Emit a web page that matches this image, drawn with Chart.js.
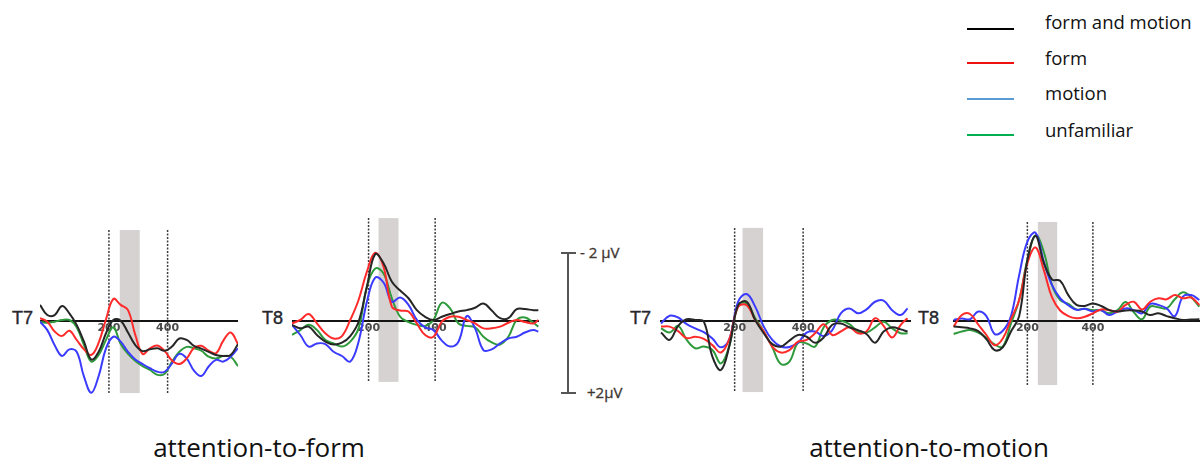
<!DOCTYPE html>
<html>
<head>
<meta charset="utf-8">
<script src="https://cdn.jsdelivr.net/npm/chart.js@4.4.0/dist/chart.umd.min.js"></script>
<style>
  body { margin: 0; background: #fff; }
  #page { position: relative; width: 1200px; height: 461px; overflow: hidden; font-family: 'Open Sans', sans-serif; }
  #page canvas { position: absolute; }
  .electrode { position: absolute; font: 18px 'Liberation Sans', sans-serif; color: #26262e; line-height: 18px; -webkit-text-stroke: 0.4px #26262e; }
  .caption { position: absolute; top: 434px; font-size: 26px; line-height: 26px; color: #111; transform: translateX(-50%); white-space: nowrap; }
  .legend-row { position: absolute; left: 967px; height: 20px; }
  .legend-row i { position: absolute; left: 0; width: 47px; height: 2px; }
  .legend-row span { position: absolute; left: 78px; font-size: 18.5px; color: #111; white-space: nowrap; line-height: 20px; }
  .bar { position: absolute; background: #555; }
  .uv { position: absolute; font: 15px 'Open Sans', sans-serif; color: #3e3630; line-height: 15px; white-space: nowrap; -webkit-text-stroke: 0.3px #3e3630; }
</style>
</head>
<body>
<div id="page">
  <div class="legend-row" style="top: 12px"><i style="top: 16px; background: #000"></i><span>form and motion</span></div>
  <div class="legend-row" style="top: 48px"><i style="top: 14px; background: #ee1111"></i><span>form</span></div>
  <div class="legend-row" style="top: 83px"><i style="top: 15px; background: #5b9bd5"></i><span>motion</span></div>
  <div class="legend-row" style="top: 120px"><i style="top: 14px; background: #00b050"></i><span>unfamiliar</span></div>

  <div class="bar" style="left: 567px; top: 253px; width: 2px; height: 140px"></div>
  <div class="bar" style="left: 561px; top: 252px; width: 15px; height: 2px"></div>
  <div class="bar" style="left: 561px; top: 392px; width: 15px; height: 2px"></div>
  <div class="uv" style="left: 580px; top: 245px">- 2 µV</div>
  <div class="uv" style="left: 587px; top: 385px">+2µV</div>

  <div class="caption" style="left: 259px">attention-to-form</div>
  <div class="caption" style="left: 929px">attention-to-motion</div>
</div>
<script>
// sample times (ms) and amplitudes (µV, negative plotted upward)

// attention-to-form, T7
const formT7Times = [-35, -10, 15, 40, 65, 90, 115, 140, 165, 190, 215, 240, 265, 290, 315, 340, 365, 390, 415, 440, 465, 490, 515, 540, 565, 590, 615, 640];
const formT7FormMotion = [-0.46, -0.17, -0.17, -0.43, -0.22, 0.11, 0.59, 1.10, 0.88, 0.35, -0.03, -0.01, 0.33, 0.69, 0.86, 0.81, 0.78, 0.85, 0.73, 0.50, 0.54, 0.71, 0.79, 0.88, 0.97, 1.00, 0.97, 0.66];
const formT7Form = [-0.08, 0.02, 0.30, 0.43, 0.28, 0.54, 0.81, 0.97, 0.62, -0.05, -0.63, -0.46, -0.31, 0.40, 0.94, 0.78, 0.70, 0.86, 1.13, 1.23, 1.07, 0.77, 0.71, 0.85, 0.92, 0.56, 0.33, 0.66];
const formT7Motion = [0.02, 0.26, 0.69, 1.00, 0.81, 0.88, 1.59, 2.05, 1.57, 0.78, 0.45, 0.59, 0.88, 1.10, 1.23, 1.35, 1.45, 1.45, 1.21, 0.94, 1.07, 1.42, 1.57, 1.30, 1.11, 1.16, 1.02, 0.78];
const formT7Unfamiliar = [0.02, 0.05, 0.02, -0.03, -0.03, 0.18, 0.69, 1.16, 0.97, 0.54, 0.18, 0.66, 0.94, 1.14, 1.29, 1.40, 1.54, 1.51, 1.16, 0.88, 0.74, 0.78, 0.85, 1.02, 1.07, 1.00, 1.02, 1.29];

// attention-to-form, T8
const formT8Times = [-30, -5, 20, 45, 70, 95, 120, 145, 170, 195, 220, 245, 270, 295, 320, 345, 370, 395, 420, 445, 470, 495, 520, 545, 570, 595, 620, 645, 670, 695, 710];
const formT8FormMotion = [0.11, 0.21, 0.16, 0.40, 0.59, 0.67, 0.62, 0.43, 0.02, -0.98, -1.91, -1.65, -1.12, -0.87, -0.65, -0.31, -0.12, -0.03, -0.12, -0.20, -0.27, -0.31, -0.38, -0.50, -0.30, -0.08, -0.08, -0.34, -0.34, -0.31, -0.31];
const formT8Form = [0.07, -0.03, -0.20, 0.07, 0.35, 0.50, 0.43, -0.03, -0.60, -1.41, -1.95, -1.55, -0.41, -0.30, -0.27, 0.07, 0.40, 0.45, 0.02, -0.12, -0.12, -0.03, 0.07, 0.21, 0.21, 0.16, 0.05, -0.03, 0.03, 0.07, -0.03];
const formT8Motion = [0.11, 0.40, 0.73, 0.64, 0.66, 0.88, 1.00, 1.16, 0.59, -0.55, -1.24, -1.10, -0.55, -0.67, -0.46, -0.03, 0.18, 0.26, 0.56, 0.73, 0.59, -0.14, 0.21, 0.83, 0.81, 0.64, 0.50, 0.45, 0.33, 0.26, 0.30];
const formT8Unfamiliar = [0.40, 0.26, 0.11, 0.26, 0.54, 0.64, 0.73, 0.59, 0.21, -0.98, -1.50, -1.36, -0.65, -0.12, 0.03, 0.11, 0.14, -0.03, -0.52, -0.36, 0.07, 0.14, 0.18, 0.45, 0.61, 0.67, 0.45, -0.03, -0.10, 0.05, 0.16];

// attention-to-motion, T7
const motionT7Times = [-15, 10, 35, 60, 85, 110, 135, 160, 185, 210, 235, 260, 285, 310, 335, 360, 385, 410, 435, 460, 485, 510, 535, 560, 585, 610, 635, 660, 685, 705];
const motionT7FormMotion = [0.33, 0.54, 0.14, -0.05, -0.03, 0.02, 1.02, 1.40, 0.69, -0.45, -0.55, -0.03, 0.35, 0.66, 0.73, 0.56, 0.40, 0.45, 0.62, 0.47, 0.11, 0.07, 0.18, 0.26, 0.37, 0.62, 0.30, 0.18, 0.24, 0.30];
const motionT7Form = [0.16, 0.16, 0.29, 0.49, 0.45, 0.51, 0.69, 0.90, 0.50, -0.40, -0.45, -0.03, 0.30, 0.73, 0.90, 0.83, 0.59, 0.54, 0.35, 0.09, 0.40, 0.30, 0.18, 0.35, 0.30, -0.08, 0.14, 0.47, 0.11, -0.08];
const motionT7Motion = [0.07, -0.15, -0.10, 0.09, 0.21, 0.32, 0.50, 0.75, 0.50, -0.55, -0.77, -0.41, 0.16, 0.54, 0.73, 0.74, 0.62, 0.33, 0.30, 0.43, 0.26, -0.22, -0.36, -0.22, -0.33, -0.55, -0.58, -0.31, -0.17, -0.36];
const motionT7Unfamiliar = [0.21, 0.33, 0.14, 0.54, 0.78, 0.73, 0.83, 1.21, 0.69, -0.45, -0.50, -0.08, 0.30, 0.75, 1.23, 1.16, 0.62, 0.64, 0.73, 0.18, -0.03, -0.01, 0.09, 0.30, 0.33, 0.18, 0.02, 0.21, 0.35, 0.35];

// attention-to-motion, T8
const motionT8Times = [-25, 0, 25, 50, 75, 100, 125, 150, 175, 200, 225, 250, 275, 300, 325, 350, 375, 400, 425, 450, 475, 500, 525, 550, 575, 600, 625, 650, 675, 700, 725];
const motionT8FormMotion = [0.16, 0.18, 0.21, 0.29, 0.52, 0.83, 0.75, 0.30, -0.14, -1.74, -2.43, -1.67, -1.19, -1.15, -0.74, -0.46, -0.43, -0.50, -0.43, -0.31, -0.27, -0.30, -0.30, -0.27, -0.17, -0.22, -0.14, -0.08, -0.03, -0.04, -0.05];
const motionT8Form = [0.16, -0.17, -0.20, 0.10, 0.40, 0.69, 0.50, -0.05, -0.60, -1.65, -2.10, -1.46, -0.68, -0.30, -0.14, -0.08, -0.12, -0.22, -0.33, -0.31, -0.27, -0.46, -0.55, -0.33, -0.55, -0.65, -0.62, -0.74, -0.65, -0.67, -0.46];
const motionT8Motion = [-0.03, -0.07, -0.05, -0.27, -0.14, 0.37, 0.28, -0.14, -1.31, -2.27, -2.52, -1.70, -1.03, -0.65, -0.45, -0.32, -0.35, -0.27, -0.31, -0.17, -0.27, -0.36, -0.31, -0.22, -0.49, -0.46, -0.36, -0.14, -0.70, -0.74, -0.60];
const motionT8Unfamiliar = [0.37, 0.30, 0.26, 0.33, 0.48, 0.67, 0.73, 0.07, -0.60, -1.74, -2.45, -1.98, -1.03, -0.60, -0.49, -0.33, -0.35, -0.31, -0.31, -0.22, -0.31, -0.54, -0.25, -0.05, -0.41, -0.39, -0.36, -0.62, -0.82, -0.68, -0.41];

const tickTimes = [200, 400];
const traceColors = ['#262626', '#ff2b2b', '#3b3bff', '#2f9a3c'];

// layout: each panel placed by where its 200 and 400 ms lines sit
const plotTop = 200;
const plotHeight = 210;
const zeroY = 321;
const pxPerUv = 35;

const panels = [
    { label: 'T7', labelX: 12, times: formT7Times, series: [formT7FormMotion, formT7Form, formT7Motion, formT7Unfamiliar],
      x200: 109, x400: 167.7, min: -35, max: 640, window: [237, 305], span: [-2.6, 2.06] },
    { label: 'T8', labelX: 262, times: formT8Times, series: [formT8FormMotion, formT8Form, formT8Motion, formT8Unfamiliar],
      x200: 368.3, x400: 435, min: -30, max: 712, window: [230, 290], span: [-2.94, 1.74] },
    { label: 'T7', labelX: 630, times: motionT7Times, series: [motionT7FormMotion, motionT7Form, motionT7Motion, motionT7Unfamiliar],
      x200: 734.3, x400: 802.7, min: -18, max: 715, window: [223, 283], span: [-2.66, 2.03] },
    { label: 'T8', labelX: 918, times: motionT8Times, series: [motionT8FormMotion, motionT8Form, motionT8Motion, motionT8Unfamiliar],
      x200: 1027.7, x400: 1093.3, min: -27, max: 730, window: [232, 291], span: [-2.83, 1.83] }
];

const erpMarks = {
    id: 'erpMarks',
    beforeDatasetsDraw(chart, args, opts) {
        const { ctx, chartArea } = chart;
        const x = chart.scales.x, y = chart.scales.y;
        const top = y.getPixelForValue(opts.span[0]);
        const bottom = y.getPixelForValue(opts.span[1]);
        ctx.save();
        // shaded analysis window
        const w0 = x.getPixelForValue(opts.window[0]);
        const w1 = x.getPixelForValue(opts.window[1]);
        ctx.fillStyle = '#d6d2d1';
        ctx.fillRect(w0, top, w1 - w0, bottom - top);
        // dotted lines at 200 / 400 ms
        ctx.strokeStyle = '#3c3c3c';
        ctx.lineWidth = 1.5;
        ctx.setLineDash([2, 1.5]);
        tickTimes.forEach(t => {
            const px = x.getPixelForValue(t);
            ctx.beginPath();
            ctx.moveTo(px, top);
            ctx.lineTo(px, bottom);
            ctx.stroke();
        });
        ctx.setLineDash([]);
        // zero line
        const zy = y.getPixelForValue(0);
        ctx.strokeStyle = '#141414';
        ctx.lineWidth = 2;
        ctx.beginPath();
        ctx.moveTo(chartArea.left, zy);
        ctx.lineTo(chartArea.right, zy);
        ctx.stroke();
        // tick labels
        ctx.fillStyle = '#4a4a4a';
        ctx.font = 'bold 11px "DejaVu Sans"';
        ctx.textAlign = 'center';
        ctx.textBaseline = 'top';
        tickTimes.forEach(t => ctx.fillText(String(t), x.getPixelForValue(t), zy + 2));
        ctx.restore();
    }
};

const page = document.getElementById('page');

panels.forEach(p => {
    const k = (p.x400 - p.x200) / 200;
    const left = p.x200 - (200 - p.min) * k;
    const width = (p.max - p.min) * k;

    const canvas = document.createElement('canvas');
    canvas.width = Math.round(width);
    canvas.height = plotHeight;
    canvas.style.left = left.toFixed(1) + 'px';
    canvas.style.top = plotTop + 'px';
    page.appendChild(canvas);

    const label = document.createElement('div');
    label.className = 'electrode';
    label.textContent = p.label;
    label.style.left = p.labelX + 'px';
    label.style.top = (zeroY - 12) + 'px';
    page.appendChild(label);

    new Chart(canvas, {
        type: 'line',
        data: {
            labels: p.times,
            datasets: p.series.map((values, i) => ({
                data: values.map((v, j) => ({ x: p.times[j], y: v })),
                borderColor: traceColors[i],
                borderWidth: 2,
                pointRadius: 0,
                tension: 0.4,
                fill: false
            }))
        },
        options: {
            responsive: false,
            animation: false,
            layout: { padding: 0 },
            plugins: {
                legend: { display: false },
                tooltip: { enabled: false },
                erpMarks: { window: p.window, span: p.span }
            },
            scales: {
                x: { type: 'linear', min: p.min, max: p.max, display: false },
                y: {
                    min: -(zeroY - plotTop) / pxPerUv,
                    max: (plotTop + plotHeight - zeroY) / pxPerUv,
                    reverse: true,
                    display: false
                }
            }
        },
        plugins: [erpMarks]
    });
});
</script>
</body>
</html>
